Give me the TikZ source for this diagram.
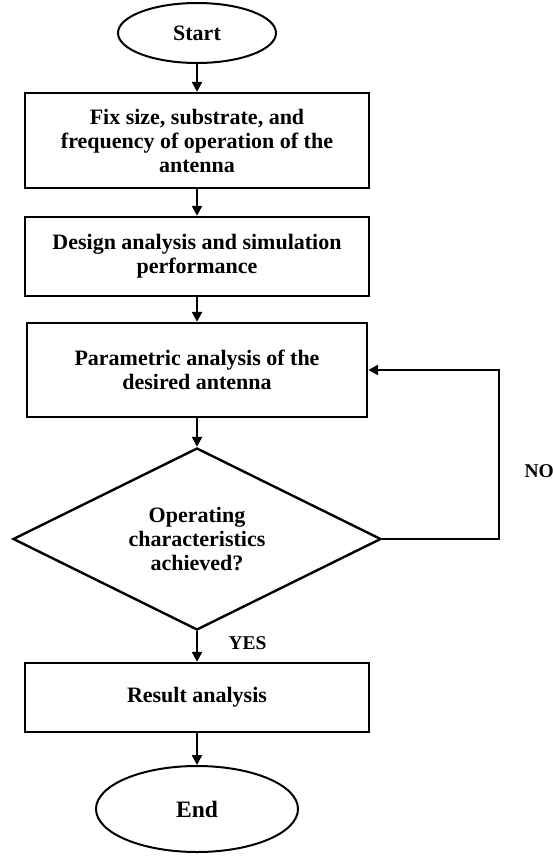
\documentclass[tikz,border=0pt]{standalone}
\usepackage{fontspec}
\setmainfont{Liberation Serif}
\usetikzlibrary{shapes.geometric,arrows.meta}

\tikzset{
	flowbox/.style={draw,rectangle,line width=2.4pt,align=center,minimum width=344pt,inner sep=2pt},
	terminal/.style={draw,ellipse,line width=2pt,inner sep=0pt},
	decision/.style={draw,diamond,aspect=2,line width=2.4pt,align=center,inner sep=0pt},
	label/.style={font=\fontsize{19.5}{22}\selectfont\bfseries}
}

\begin{document}
\begin{tikzpicture}[x=1pt,y=-1pt,font=\fontsize{22}{24}\selectfont\bfseries]
		\useasboundingbox (0,0) rectangle (553,856);
		\node[terminal,minimum width=158pt,minimum height=60pt] (start) at (197,33) {Start};
		\node[flowbox,minimum height=95pt] (fix) at (197,140.5) {Fix size, substrate, and\\frequency of operation of the\\antenna};
		\node[flowbox,minimum height=79pt] (design) at (197,256.5) {Design analysis and simulation\\performance};
		\node[flowbox,minimum width=340pt,minimum height=94pt] (param) at (197,370) {Parametric analysis of the\\desired antenna};
		\node[decision,minimum width=368pt,minimum height=182pt] (check) at (197,539) {Operating\\characteristics\\achieved?};
		\node[flowbox,minimum height=69pt] (result) at (197,697.5) {Result analysis};
		\node[terminal,minimum width=202pt,minimum height=86pt,font=\fontsize{23.5}{26}\selectfont\bfseries] (stop) at (197,809) {End};
		\coordinate (turn) at (499,370);
		%
		\path[line width=2.4pt,-{Triangle[length=10pt,width=10pt]}]
		% main column
		(start) edge (fix)
		(fix) edge (design)
		(design) edge (param)
		(param) edge (check)
		(check) edge node[label,right=27pt,pos=0.4]{YES} (result)
		(result) edge (stop);
		% loop back
		\draw[line width=2.4pt,-{Triangle[length=10pt,width=10pt]}]
		(check.east) -| node[label,right=21pt,pos=0.7]{NO} (turn) -- (param.east);
\end{tikzpicture}
\end{document}
